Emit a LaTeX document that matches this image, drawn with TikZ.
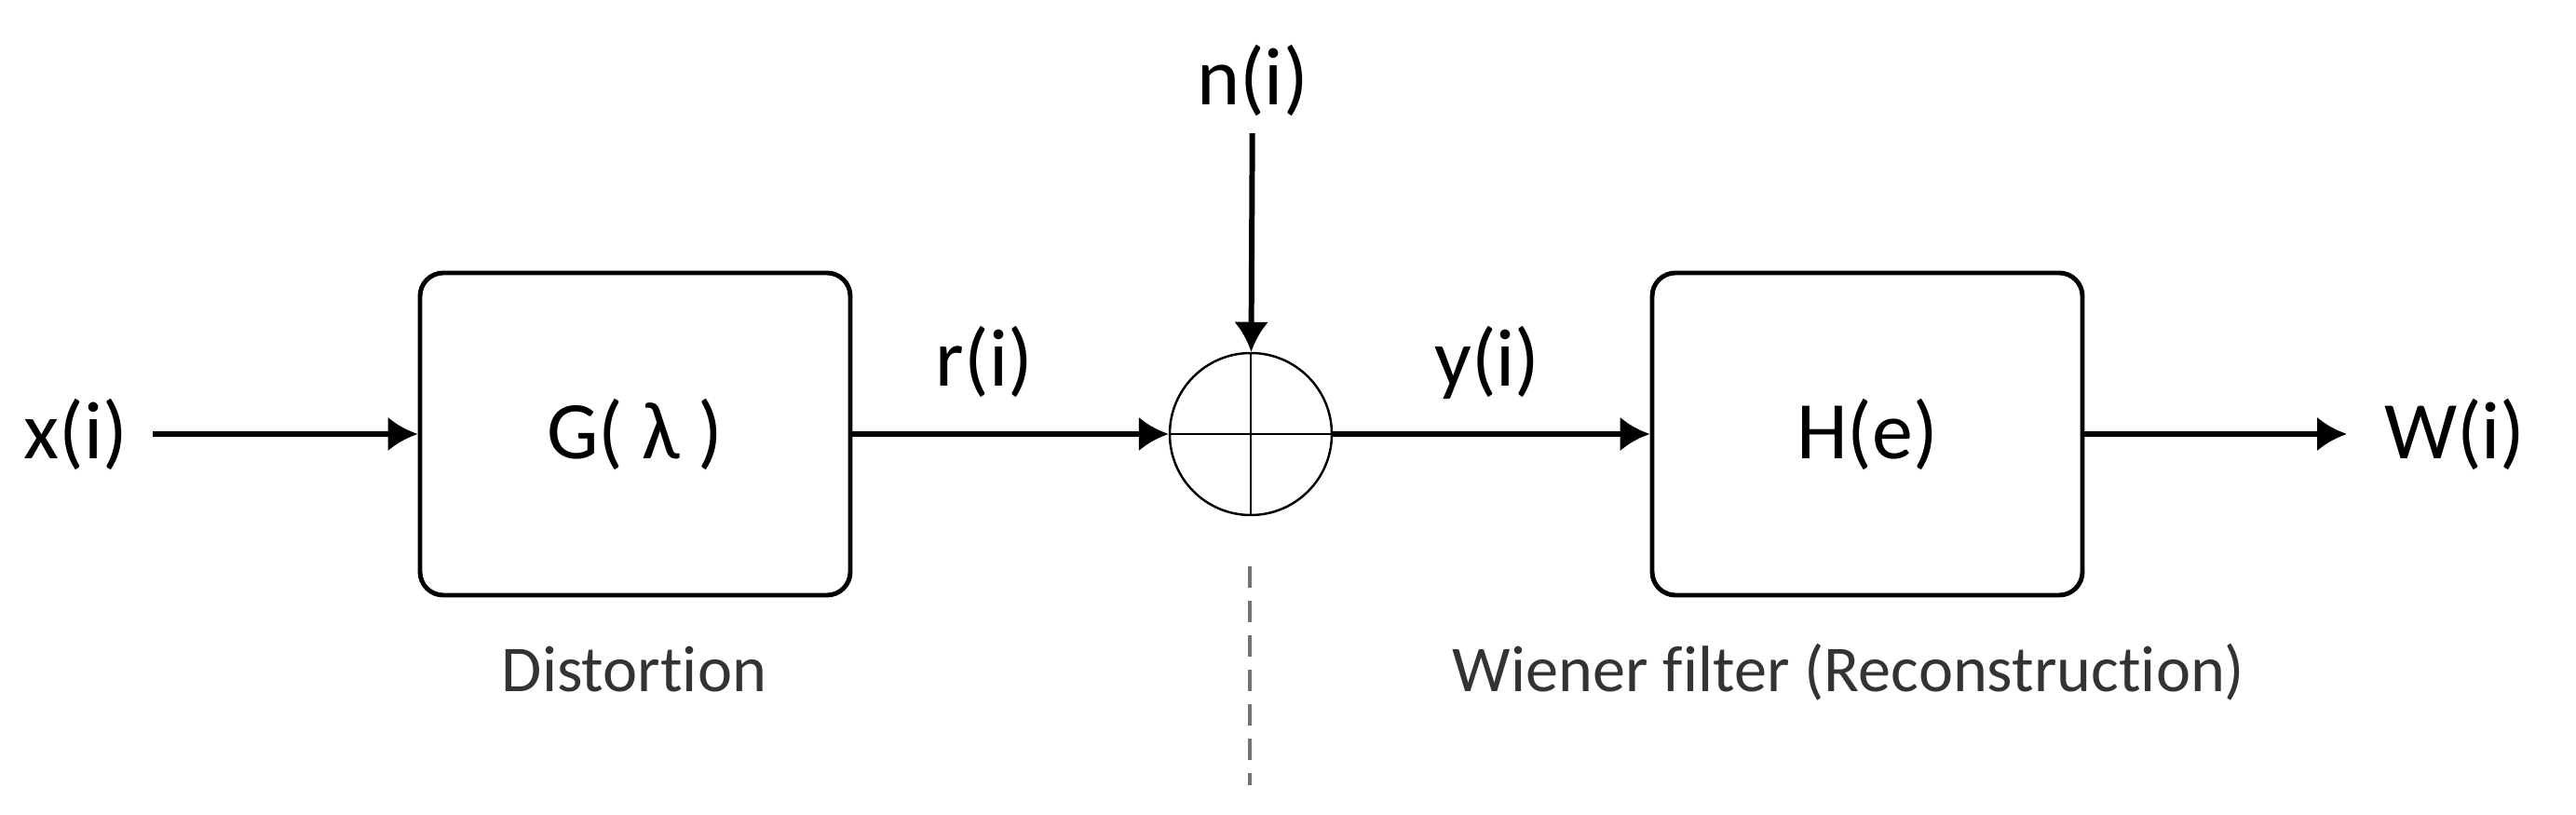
\documentclass[tikz,border=0pt]{standalone}
\usepackage{fontspec}
\setmainfont{Carlito}[Ligatures=NoCommon]
\usetikzlibrary{arrows.meta}

\begin{document}
\begin{tikzpicture}[line width=1.7pt,>={Latex[length=3.2mm,width=3.7mm]},
  blk/.style={draw,line width=1.4pt,rounded corners=2.5mm,minimum width=4.62cm,
    minimum height=3.46cm,font=\fontsize{25}{30}\selectfont},
  sig/.style={inner sep=0pt,font=\fontsize{25}{30}\selectfont},
  note/.style={inner sep=0pt,text=black!80,font=\fontsize{20}{24}\selectfont}]
\useasboundingbox (0,0) rectangle (27.66,8.75);
% 两个方框
\node[blk] (G) at (6.82,4.09) {G(\ λ\ )};
\node[blk] (H) at (20.05,4.09) {H(e)};
\node[note,anchor=base] (dist) at (6.81,1.32) {Distortion};
\node[note,anchor=base] (wien) at (19.85,1.32) {Wiener filter (Reconstruction)};
% 加法器（圆内十字）
\node[draw,circle,line width=0.7pt,minimum size=1.74cm,inner sep=0pt] (sum) at (13.43,4.09) {};
\draw[line width=0.7pt] (sum.north) -- (sum.south) (sum.west) -- (sum.east);
% 信号标签
\node[sig,anchor=east] (x) at (1.40,4.09) {x(i)};
\node[sig,anchor=west] (w) at (25.57,4.09) {W(i)};
\node[sig,anchor=base] (n) at (13.45,7.62) {n(i)};
\node[sig,anchor=base] (r) at (10.57,4.60) {r(i)};
\node[sig,anchor=base] (y) at (15.97,4.60) {y(i)};
% 连线
\draw[->,shorten <=2.4mm] (x) -- (G);
\draw[->] (G) -- (sum);
\draw[->,shorten <=1.5mm] (n) -- (sum);
\draw[->] (sum) -- (H);
\draw[->,shorten >=3.7mm] (H) -- (w);
% 虚线
\draw[black!55,line width=1.3pt,dash pattern=on 2.3mm off 1.4mm] (13.42,2.67) -- (13.42,0.32);
\end{tikzpicture}
\end{document}
